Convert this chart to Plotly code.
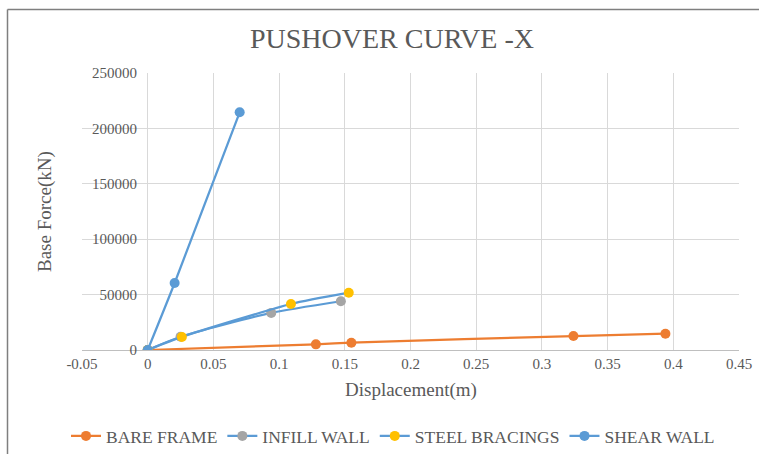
import plotly.graph_objects as go

# ---- data ----
bare_x = [0, 0.128, 0.155, 0.324, 0.394]
bare_y = [0, 5100, 6600, 12600, 14700]

infill_x = [0, 0.025, 0.094, 0.147]
infill_y = [0, 12000, 33500, 44000]

steel_x = [0, 0.026, 0.109, 0.153]
steel_y = [0, 11800, 41500, 51700]

shear_x = [0, 0.0205, 0.070]
shear_y = [0, 60500, 214500]

x_ticks = [-0.05, 0, 0.05, 0.1, 0.15, 0.2, 0.25, 0.3, 0.35, 0.4, 0.45]
x_tick_labels = ["-0.05", "0", "0.05", "0.1", "0.15", "0.2", "0.25", "0.3", "0.35", "0.4", "0.45"]
y_ticks = [0, 50000, 100000, 150000, 200000, 250000]
y_tick_labels = ["0", "50000", "100000", "150000", "200000", "250000"]

FONT = "Liberation Serif"
TXT = "#595959"
BLUE = "#5B9BD5"

fig = go.Figure()

def add(name, xs, ys, line_color, marker_color):
    fig.add_trace(go.Scatter(
        x=xs, y=ys, name=name, mode="lines+markers",
        line=dict(color=line_color, width=2.25, shape="spline", smoothing=0.6),
        marker=dict(color=marker_color, size=10),
    ))

add("BARE FRAME", bare_x, bare_y, "#ED7D31", "#ED7D31")
add("INFILL WALL", infill_x, infill_y, BLUE, "#A5A5A5")
add("STEEL BRACINGS", steel_x, steel_y, BLUE, "#FFC000")
add("SHEAR WALL", shear_x, shear_y, BLUE, BLUE)

W, H = 759, 454
L, R, T, B = 82, 20, 73, 104
pw, ph = W - L - R, H - T - B

def px(x):
    return (x - L) / pw

def py(y):
    return (H - B - y) / ph

fig.update_layout(
    width=W, height=H,
    margin=dict(l=L, r=R, t=T, b=B, autoexpand=False),
    paper_bgcolor="white", plot_bgcolor="white",
    font=dict(family=FONT, color=TXT),
    title=dict(text="PUSHOVER CURVE -X", font=dict(family=FONT, size=28, color=TXT),
               x=392 / W, xanchor="center", y=1 - 38 / H, yanchor="middle",
               xref="container", yref="container"),
    showlegend=True,
    legend=dict(orientation="h", x=393 / W, xanchor="center", y=1 - 436 / H, yanchor="middle",
                xref="container", yref="container",
                font=dict(family=FONT, size=17.5, color=TXT), itemwidth=30,
                bgcolor="rgba(0,0,0,0)"),
    xaxis=dict(range=[-0.05, 0.45], tickvals=x_ticks, ticktext=x_tick_labels,
               showgrid=True, gridcolor="#D9D9D9", gridwidth=1,
               zeroline=False, showline=True, linecolor="#BFBFBF", linewidth=1,
               ticks="", tickfont=dict(family=FONT, size=15, color=TXT)),
    yaxis=dict(range=[0, 250000], tickvals=y_ticks, ticktext=y_tick_labels,
               anchor="free", position=px(137),
               showgrid=True, gridcolor="#D9D9D9", gridwidth=1,
               zeroline=False, showline=False, ticks="",
               tickfont=dict(family=FONT, size=15, color=TXT)),
    annotations=[
        dict(text="Displacement(m)", x=0.5, y=py(390), xref="paper", yref="paper",
             showarrow=False, xanchor="center", yanchor="middle",
             font=dict(family=FONT, size=19, color=TXT)),
        dict(text="Base Force(kN)", x=px(45), y=py(212), xref="paper", yref="paper",
             showarrow=False, xanchor="center", yanchor="middle", textangle=-90,
             font=dict(family=FONT, size=19, color=TXT)),
    ],
    shapes=[
        dict(type="line", xref="paper", yref="paper", x0=px(7.5), x1=px(7.5),
             y0=py(9.5), y1=py(460), line=dict(color="#7F7F7F", width=1.5)),
        dict(type="line", xref="paper", yref="paper", x0=px(7.5), x1=px(770),
             y0=py(9.5), y1=py(9.5), line=dict(color="#7F7F7F", width=1.5)),
    ],
)

fig.write_html("out.html")
